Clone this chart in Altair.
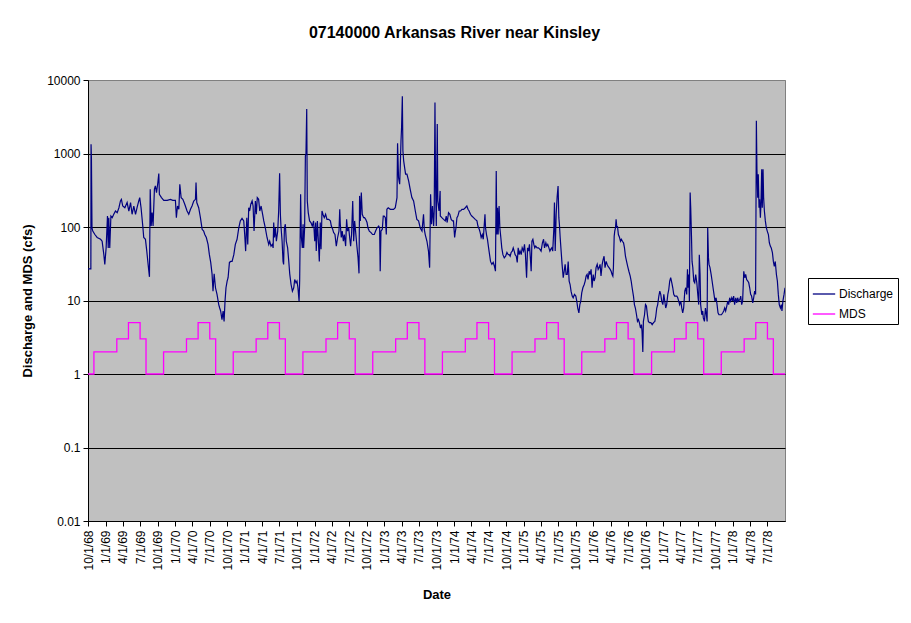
import altair as alt
import pandas as pd

START = pd.Timestamp("1968-10-01")

# discharge (cfs), as (days after 10/1/68, cfs)
flow_1968_71 = [
    (0, 27), (15, 27), (16, 1340), (18, 840), (21, 97), (25, 88), (36, 79), (48, 72), (66, 68), (74, 64),
    (83, 42), (88, 31), (95, 52), (102, 141), (106, 52), (109, 134), (114, 52), (120, 141), (127, 134),
    (135, 149), (144, 165), (153, 157), (162, 183), (170, 226), (175, 238), (182, 193), (193, 183),
    (205, 215), (214, 165), (223, 215), (231, 149), (240, 193), (249, 149), (257, 183), (266, 226),
    (271, 251), (278, 183), (287, 103), (292, 72), (301, 68), (308, 47), (315, 31), (322, 21), (326, 327),
    (331, 103), (336, 157), (341, 103), (348, 327), (353, 362), (359, 294), (366, 403), (371, 534),
    (374, 279), (385, 251), (397, 231), (415, 231), (432, 238), (444, 231), (458, 231), (463, 134),
    (469, 193), (476, 174), (481, 382), (488, 251), (497, 238), (507, 204), (519, 165), (528, 149),
    (537, 174), (545, 193), (554, 226), (563, 238), (566, 403), (570, 215), (580, 183), (589, 134),
    (598, 93), (606, 88), (612, 79), (620, 72), (629, 58), (636, 42), (643, 33), (650, 23), (655, 13.4),
    (661, 23), (668, 14.9), (676, 12.1), (685, 8.8), (690, 7.9), (695, 7.2), (702, 5.5), (708, 7.2),
    (713, 5.2), (718, 9.8), (723, 14.9), (729, 18.4), (734, 20.4), (741, 33), (748, 34), (755, 34),
    (764, 42), (772, 58), (781, 68), (790, 97), (798, 121), (807, 131), (816, 121), (821, 79), (826, 47),
    (832, 134), (837, 58), (842, 183), (847, 165), (853, 204), (860, 226), (865, 193), (870, 88),
    (877, 226), (882, 149), (887, 251), (894, 238), (900, 165), (907, 193), (915, 149), (921, 121),
    (929, 97),
]

flow_1971_73 = [
    (938, 72), (947, 58), (952, 64), (959, 55), (966, 58), (970, 52), (973, 115), (977, 72), (982, 97),
    (987, 64), (994, 88), (999, 165), (1004, 540), (1008, 149), (1011, 103), (1017, 64), (1022, 34),
    (1025, 31), (1029, 97), (1034, 109), (1039, 64), (1046, 52), (1052, 34), (1057, 23), (1064, 16.5),
    (1071, 13.4), (1078, 14.9), (1083, 19.3), (1090, 17.4), (1095, 18.4), (1100, 14.9), (1106, 9.8),
    (1109, 18.4), (1114, 279), (1118, 72), (1123, 52), (1127, 109), (1130, 52), (1135, 97), (1139, 930),
    (1142, 980), (1146, 4030), (1149, 226), (1154, 157), (1161, 121), (1168, 115), (1175, 103),
    (1182, 121), (1188, 64), (1193, 115), (1196, 47), (1202, 121), (1207, 64), (1212, 34), (1217, 115),
    (1221, 50), (1226, 165), (1231, 149), (1238, 134), (1245, 149), (1252, 127), (1261, 127), (1270, 121),
    (1275, 103), (1282, 93), (1287, 84), (1294, 79), (1301, 55), (1308, 72), (1315, 88), (1319, 174),
    (1322, 109), (1327, 72), (1332, 88), (1338, 64), (1343, 79), (1350, 55), (1355, 127), (1360, 88),
    (1366, 97), (1371, 72), (1376, 55), (1381, 79), (1387, 226), (1392, 64), (1397, 121), (1402, 88),
    (1408, 58), (1415, 38), (1420, 23.4), (1423, 265), (1427, 121), (1432, 294), (1437, 149), (1444, 134),
    (1449, 134), (1455, 127), (1462, 115), (1467, 97), (1474, 88), (1483, 84), (1491, 79), (1500, 79),
    (1507, 88), (1514, 97), (1523, 103), (1528, 97), (1531, 25), (1535, 88), (1542, 93), (1547, 141),
    (1552, 141), (1558, 134), (1563, 79), (1566, 174), (1573, 183), (1584, 174), (1593, 174), (1601, 174),
    (1610, 183), (1619, 251), (1622, 1380), (1627, 471), (1633, 382), (1636, 644), (1640, 1490),
    (1643, 2260), (1647, 5990), (1650, 1090), (1654, 794), (1659, 644), (1664, 523), (1671, 523),
    (1680, 424), (1688, 327), (1697, 251), (1706, 226), (1715, 165), (1723, 127), (1732, 121), (1741, 97),
    (1750, 88), (1758, 149), (1762, 93), (1767, 79), (1776, 64), (1784, 47), (1790, 28), (1795, 279),
    (1800, 109), (1805, 193), (1811, 103), (1814, 165), (1818, 4960), (1821, 382), (1825, 103),
    (1830, 2510), (1833, 226), (1839, 165), (1845, 310),
]

flow_1973_76 = [
    (1846, 141), (1854, 134), (1863, 127), (1872, 121), (1877, 141), (1882, 115), (1889, 157), (1896, 149),
    (1903, 127), (1910, 121), (1915, 121), (1921, 72), (1924, 84), (1928, 97), (1933, 134), (1938, 141),
    (1945, 165), (1952, 165), (1959, 174), (1968, 174), (1977, 183), (1985, 193), (1991, 174), (1997, 165),
    (2004, 149), (2011, 141), (2020, 134), (2029, 127), (2038, 121), (2043, 103), (2050, 93), (2055, 84),
    (2060, 72), (2066, 79), (2071, 68), (2074, 88), (2080, 149), (2083, 97), (2088, 79), (2093, 68),
    (2099, 52), (2104, 42), (2109, 34), (2116, 31), (2123, 33), (2130, 29), (2135, 25), (2139, 580),
    (2142, 79), (2146, 183), (2149, 79), (2154, 193), (2158, 97), (2163, 72), (2168, 52), (2174, 42),
    (2181, 38), (2188, 40), (2195, 45), (2202, 42), (2207, 42), (2212, 40), (2217, 45), (2223, 47),
    (2228, 52), (2233, 47), (2238, 42), (2244, 40), (2249, 33), (2254, 52), (2259, 42), (2264, 47),
    (2270, 42), (2275, 52), (2282, 47), (2287, 58), (2292, 42), (2298, 20.4), (2303, 52), (2308, 47),
    (2313, 58), (2319, 34), (2322, 25), (2326, 64), (2331, 68), (2336, 58), (2341, 52), (2346, 55),
    (2353, 52), (2360, 52), (2367, 50), (2374, 47), (2381, 61), (2387, 68), (2392, 52), (2399, 61),
    (2404, 55), (2409, 58), (2415, 52), (2420, 47), (2425, 50), (2430, 52), (2435, 47), (2441, 97),
    (2444, 215), (2448, 47), (2453, 149), (2458, 256), (2463, 362), (2467, 134), (2470, 109), (2474, 72),
    (2479, 47), (2484, 31), (2490, 20.4), (2495, 25), (2500, 31), (2505, 22.6), (2511, 22.6), (2516, 34),
    (2521, 18.4), (2526, 16.5), (2531, 13.4), (2537, 11.5), (2542, 10.9), (2549, 12.1), (2556, 11.5),
    (2561, 9.8), (2566, 7.9), (2572, 6.8), (2577, 8.8), (2582, 9.8), (2587, 12.7), (2593, 14.9),
    (2600, 16.5), (2605, 18.4), (2610, 21.5), (2615, 22.6), (2620, 19.3), (2626, 25), (2631, 22.6),
    (2636, 26.5), (2641, 14.9), (2647, 22.6), (2652, 18.4), (2657, 20.4), (2662, 28), (2668, 31),
    (2673, 26.5), (2678, 28), (2683, 31), (2688, 21.5), (2694, 31), (2699, 36), (2704, 40), (2709, 28),
    (2715, 34), (2720, 31), (2725, 29), (2730, 28), (2736, 26.5), (2741, 25), (2746, 22.6),
]

flow_1976_78 = [
    (2750, 21.5), (2753, 28), (2757, 75), (2760, 88), (2764, 98), (2767, 127), (2771, 98), (2774, 103),
    (2779, 79), (2785, 72), (2790, 64), (2795, 68), (2800, 64), (2806, 61), (2811, 52), (2816, 40),
    (2823, 33), (2828, 29), (2834, 25), (2841, 21.5), (2846, 18.4), (2851, 14.9), (2858, 11.5), (2863, 8.8),
    (2868, 7.9), (2874, 6.4), (2879, 5.2), (2884, 5.5), (2889, 5.0), (2895, 4.2), (2900, 4.7), (2903, 3.8),
    (2907, 2.0), (2910, 5.2), (2916, 6.4), (2921, 8.8), (2926, 8.4), (2931, 6.4), (2936, 5.2), (2942, 5.0),
    (2949, 5.0), (2956, 4.7), (2963, 5.0), (2970, 5.2), (2975, 6.1), (2980, 7.9), (2985, 8.8), (2991, 11.5),
    (2996, 13.4), (3001, 12.1), (3006, 9.8), (3012, 8.8), (3017, 12.1), (3022, 9.8), (3027, 7.9),
    (3032, 8.8), (3038, 12.1), (3043, 14.1), (3048, 18.4), (3053, 20.4), (3059, 17.4), (3064, 14.9),
    (3069, 12.1), (3074, 11.5), (3080, 11.5), (3085, 11.5), (3090, 10.9), (3095, 9.8), (3100, 8.8),
    (3106, 9.8), (3111, 7.9), (3116, 6.8), (3121, 7.9), (3127, 13.4), (3132, 14.9), (3137, 12.1),
    (3141, 26.5), (3144, 14.9), (3148, 22.6), (3151, 9.8), (3155, 294), (3158, 183), (3162, 75), (3165, 34),
    (3169, 28), (3174, 18.4), (3179, 17.4), (3184, 22.6), (3190, 17.4), (3195, 12.1), (3200, 8.8),
    (3203, 42), (3207, 22.6), (3210, 8.8), (3216, 6.4), (3221, 7.2), (3224, 5.8), (3230, 5.2), (3235, 7.9),
    (3240, 6.4), (3244, 5.2), (3247, 98), (3251, 38), (3254, 31), (3259, 28), (3265, 22.6), (3270, 18.4),
    (3275, 14.9), (3280, 12.1), (3285, 9.8), (3291, 10.9), (3296, 8.8), (3301, 6.8), (3306, 6.4),
    (3312, 6.4), (3319, 6.4), (3326, 6.8), (3331, 7.2), (3336, 7.9), (3341, 7.2), (3347, 8.4), (3352, 9.8),
    (3357, 8.8), (3362, 10.9), (3367, 9.8), (3373, 10.9), (3378, 9.8), (3383, 11.5), (3388, 8.8),
    (3394, 10.9), (3399, 9.3), (3404, 10.9), (3409, 9.8), (3415, 10.3), (3420, 11.5), (3425, 8.8),
    (3430, 9.8), (3436, 25), (3441, 20.4), (3446, 22.6), (3451, 19.3), (3457, 18.4), (3462, 17.4),
    (3467, 14.9), (3472, 12.1), (3477, 11.5), (3483, 9.3), (3488, 10.9), (3493, 13.4), (3498, 12.1),
    (3502, 2790), (3505, 611), (3509, 251), (3512, 523), (3516, 183), (3519, 238), (3523, 134), (3526, 204),
    (3530, 611), (3533, 183), (3537, 611), (3540, 251), (3544, 165), (3549, 121), (3554, 98), (3559, 88),
    (3565, 79), (3570, 61), (3575, 55), (3580, 52), (3586, 45), (3591, 34), (3596, 29), (3601, 34),
    (3607, 22.6), (3612, 18.4), (3617, 12.1), (3622, 8.8), (3628, 7.9), (3633, 8.8), (3636, 7.2),
    (3641, 9.8), (3647, 12.1), (3652, 14.9),
]

# MDS by calendar month, Oct..Sep of each water year
mds_months = [10, 11, 12, 1, 2, 3, 4, 5, 6, 7, 8, 9]
mds_cfs = [1, 2, 2, 2, 2, 3, 3, 5, 5, 3, 1, 1]

y_ticks = [0.01, 0.1, 1, 10, 100, 1000, 10000]
x_ticks = pd.date_range("1968-10-01", "1978-07-01", freq="3MS")

flow = pd.DataFrame(flow_1968_71 + flow_1971_73 + flow_1973_76 + flow_1976_78, columns=["day", "cfs"])
flow["date"] = (START + pd.to_timedelta(flow["day"], unit="D")).dt.strftime("%Y-%m-%d")
flow["series"] = "Discharge"

mds_lookup = dict(zip(mds_months, mds_cfs))
month_starts = pd.date_range("1968-10-01", "1978-10-01", freq="MS")
mds = pd.DataFrame({
    "date": month_starts.strftime("%Y-%m-%d"),
    "cfs": [mds_lookup[m.month] if i < len(month_starts) - 1 else 1 for i, m in enumerate(month_starts)],
    "series": "MDS",
})

FONT = "Liberation Sans"

x_enc = alt.X(
    "date:T",
    scale=alt.Scale(type="utc", domain=[alt.DateTime(year=1968, month=10, date=1, utc=True),
                                        alt.DateTime(year=1978, month=10, date=1, utc=True)]),
    axis=alt.Axis(
        title="Date", values=[alt.DateTime(year=d.year, month=d.month, date=1, utc=True) for d in x_ticks],
        format="%-m/%-d/%y", labelAngle=-90, grid=False, titleY=67, labelPadding=4,
    ),
)
y_enc = alt.Y(
    "cfs:Q",
    scale=alt.Scale(type="log", domain=[0.01, 10000]),
    axis=alt.Axis(
        title="Discharge and MDS (cfs)", values=y_ticks, format="~g", titleX=-54, labelPadding=3,
        gridColor=alt.condition("datum.value >= 10000", alt.value("#808080"), alt.value("black")),
    ),
)
color_enc = alt.Color(
    "series:N",
    scale=alt.Scale(domain=["Discharge", "MDS"], range=["#000080", "#FF00FF"]),
    legend=alt.Legend(
        title=None, orient="none", legendX=720, legendY=198, fillColor="white", strokeColor="black",
        padding=4, symbolType="stroke", symbolSize=500, symbolStrokeWidth=1.3, rowPadding=2,
        labelOffset=3, labelFontSize=12, labelFont=FONT, labelColor="black",
    ),
)

discharge = alt.Chart(flow).mark_line(strokeWidth=1.2, clip=True).encode(x=x_enc, y=y_enc, color=color_enc)
mds_line = alt.Chart(mds).mark_line(strokeWidth=1.3, interpolate="step-after", clip=True).encode(
    x=x_enc, y=y_enc, color=color_enc
)

chart = alt.layer(mds_line, discharge).properties(
    width=697,
    height=441,
    padding={"left": 80, "top": 72, "right": 118, "bottom": 86},
    autosize=alt.AutoSizeParams(type="none"),
    title=alt.TitleParams(
        "07140000 Arkansas River near Kinsley", font=FONT, fontSize=16, fontWeight="bold",
        anchor="middle", frame="group", dx=18, offset=33, color="black",
    ),
).configure_view(
    fill="#C0C0C0", stroke="#808080"
).configure_axis(
    labelFont=FONT, labelFontSize=12, labelColor="black",
    titleFont=FONT, titleFontSize=13, titleFontWeight="bold", titleColor="black",
    domainColor="black", tickColor="black", tickSize=5, gridColor="black", gridOpacity=1,
)

chart.save("out.html", embed_options={"renderer": "svg", "actions": False})
